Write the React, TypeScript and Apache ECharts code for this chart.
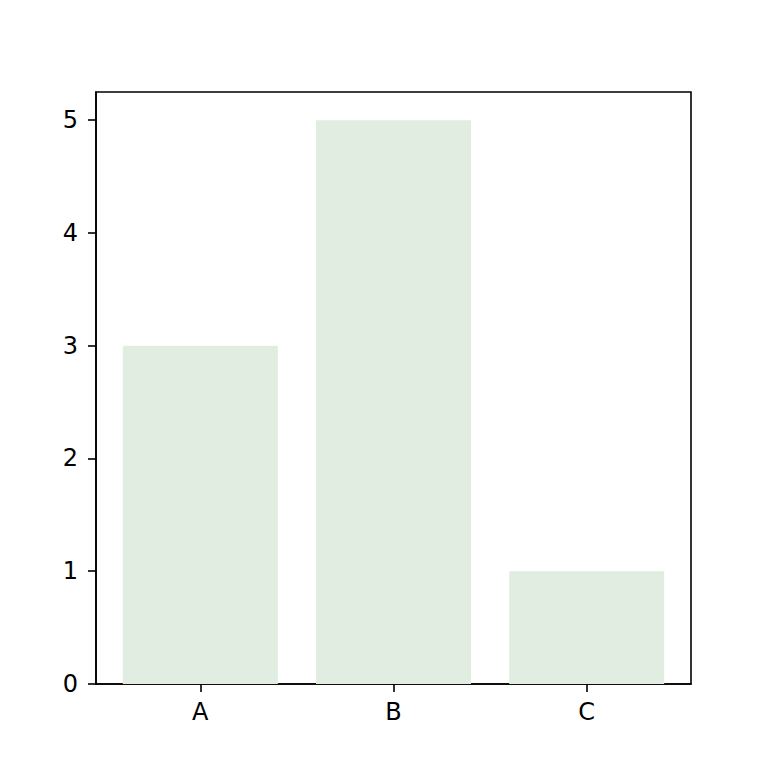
import React, { useEffect, useRef } from 'react';
import * as echarts from 'echarts';

// categories and bar heights
const categories = ['A', 'B', 'C'];
const values = [3, 5, 1];
const yTicks = [0, 1, 2, 3, 4, 5];

const App: React.FC = () => {
  const chartRef = useRef<HTMLDivElement>(null);

  useEffect(() => {
    const chart = echarts.init(chartRef.current!, null, { renderer: 'svg' });

    const font = { fontFamily: 'DejaVu Sans', fontSize: 24, color: '#000' };
    const line = { color: '#000', width: 1.6 };

    chart.setOption({
      animation: false,
      backgroundColor: '#fff',
      grid: {
        left: 96,
        right: 77,
        top: 92,
        bottom: 84,
        show: true,
        borderColor: '#000',
        borderWidth: 1.6,
      },
      xAxis: {
        type: 'value',
        min: -0.54,
        max: 2.54,
        splitLine: { show: false },
        axisLine: { show: true, onZero: false, lineStyle: line },
        axisTick: { show: true, length: 8, customValues: [0, 1, 2], lineStyle: line },
        axisLabel: {
          ...font,
          margin: 16,
          customValues: [0, 1, 2],
          formatter: (v: number) => categories[Math.round(v)] ?? '',
        },
      },
      yAxis: {
        type: 'value',
        min: 0,
        max: 5.25,
        splitLine: { show: false },
        axisLine: { show: true, onZero: false, lineStyle: line },
        axisTick: { show: true, length: 8, customValues: yTicks, lineStyle: line },
        axisLabel: { ...font, margin: 18, customValues: yTicks },
      },
      series: [
        {
          type: 'bar',
          data: values.map((v, i) => [i, v]),
          barWidth: 155,
          itemStyle: { color: '#e1ede1' },
        },
      ],
    });

    return () => chart.dispose();
  }, []);

  return (
    <div
      ref={chartRef}
      style={{ position: 'fixed', left: 0, top: 0, width: '768px', height: '768px' }}
    />
  );
};

export default App;
